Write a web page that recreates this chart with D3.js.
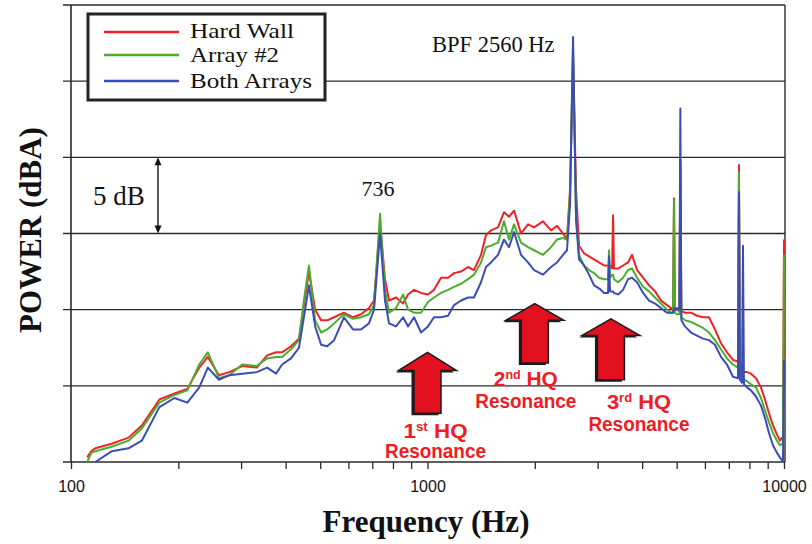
<!DOCTYPE html>
<html>
<head>
<meta charset="utf-8">
<script src="https://cdn.jsdelivr.net/npm/d3@7"></script>
<style>
  html, body { margin: 0; padding: 0; background: #fff; }
  svg { display: block; }
</style>
</head>
<body>
<svg id="chart" width="812" height="544"></svg>
<script>
// Sound power spectra (dBA) for the three duct-liner configurations
const freqs = [111,114,117,130,145,158,177,195,212,229,242,260,278,302,332,355,376,391,414,436,
  450,465,484,503,523,547,583,618,651,685,708,736,760,780,816,854,882,917,959,1003,
  1043,1091,1142,1187,1242,1299,1350,1413,1459,1507,1577,1639,1693,1749,1829,1914,1990,2109,2220,2308,
  2400,2462,2511,2560,2610,2661,2748,2839,2932,3028,3128,3209,3230,3251,3295,3315,3335,3424,3536,3652,
  3748,3871,4024,4182,4347,4519,4697,4820,4882,4914,4946,5010,5087,5120,5153,5276,5484,5700,5926,6160,
  6403,6656,6919,7192,7428,7476,7524,7623,7672,7722,7873,8079,8344,8618,8843,9076,9313,9558,9745,9872,
  9935,10000];

const hardWall = [60.3,60.7,60.9,61.2,61.6,62.4,64.1,64.5,64.8,66.2,66.9,65.7,65.9,66.3,66.2,67.0,67.2,67.2,67.6,68.1,
  70.3,72.5,70.0,69.3,69.3,69.5,69.8,69.5,69.7,70.1,70.6,75.6,72.0,70.6,70.8,70.4,71.0,71.3,71.1,71.0,
  71.3,72.1,72.1,72.4,72.5,72.8,72.6,73.6,74.9,75.2,75.4,76.4,76.1,76.5,75.0,75.6,75.4,75.8,75.2,75.5,
  75.0,74.6,77.9,86.4,77.9,74.2,73.7,73.5,73.3,73.1,72.9,72.9,72.9,72.9,72.7,76.2,72.7,72.7,72.9,73.1,
  73.6,72.6,72.1,71.6,71.2,70.6,70.3,70.1,70.1,77.3,70.0,70.0,69.9,79.8,69.9,69.8,69.8,69.6,69.5,69.5,
  68.7,67.8,67.2,66.7,66.6,79.5,66.3,66.2,66.0,65.9,65.9,65.8,65.5,64.9,64.1,63.2,62.4,61.8,61.4,61.6,
  61.6,74.6];

const array2 = [60.0,60.6,60.7,61.0,61.4,62.2,63.9,64.4,64.7,66.4,67.2,65.5,65.7,66.4,66.3,66.8,66.9,66.9,67.4,68.0,
  70.6,72.9,69.3,68.5,68.7,69.1,69.7,69.4,69.5,69.7,70.3,76.3,71.3,69.8,70.1,71.0,70.0,69.8,69.8,70.5,
  70.8,71.1,71.3,71.5,71.7,72.0,72.3,73.1,74.1,74.2,74.4,75.8,74.6,75.6,74.4,74.1,73.9,73.6,74.1,74.6,
  74.7,74.6,77.5,87.2,76.2,73.6,72.9,72.6,72.4,72.1,72.0,72.0,73.9,72.1,72.3,72.3,72.0,71.8,72.1,72.6,
  72.7,72.1,71.5,71.2,70.8,70.4,70.0,69.8,69.8,77.2,69.8,69.7,69.7,79.5,69.5,69.3,69.2,69.0,68.8,68.5,
  68.0,67.4,66.8,66.4,66.2,79.0,65.9,65.6,65.5,65.4,65.3,65.1,64.9,64.2,63.4,62.6,61.9,61.4,61.1,61.2,
  61.2,73.6];

const bothArrays = [null,null,60.0,60.7,60.9,61.4,63.6,64.2,63.9,64.9,66.2,65.4,65.7,65.8,65.9,66.2,65.8,66.4,66.8,67.5,
  69.5,71.6,68.9,67.7,67.6,68.0,69.5,68.7,68.7,69.1,70.0,75.0,70.6,69.1,68.9,69.5,68.9,69.5,68.5,68.9,
  69.5,69.5,69.6,70.3,70.6,70.8,70.8,71.8,72.8,73.1,73.6,74.6,74.1,75.1,73.6,73.1,72.6,72.3,72.8,73.1,
  73.6,73.9,76.9,87.9,75.9,73.3,72.9,72.3,71.6,71.4,71.1,71.1,73.5,71.2,71.2,71.2,71.1,71.0,71.3,72.0,
  72.1,71.8,71.1,70.6,70.4,70.1,69.8,69.8,69.8,70.1,70.0,70.1,70.0,83.2,69.3,68.9,68.5,68.3,68.1,68.0,
  67.7,66.9,66.4,65.6,65.5,77.7,65.4,65.2,74.2,65.1,64.9,64.7,64.3,63.7,62.9,61.9,61.1,60.6,60.3,60.1,
  60.1,66.7];

const seriesNames = ["Hard Wall", "Array #2", "Both Arrays"];
const seriesColors = ["#ee2228", "#4cad2c", "#3b4db5"];
const yGrid = [60, 65, 70, 75, 80, 85, 90];
const xMajor = [100, 1000, 10000];

// Resonance annotations (frequency in Hz, arrow tip / head base / tail in dBA)
const resonances = [
  { freq: 1000, tip: 67.2, head: 66.0, tail: 63.2, ord: "1", sup: "st", hq: 438, res: 458, dx: 8 },
  { freq: 2000, tip: 70.4, head: 69.3, tail: 66.5, ord: "2", sup: "nd", hq: 386, res: 408, dx: -9 },
  { freq: 3270, tip: 69.4, head: 68.3, tail: 65.4, ord: "3", sup: "rd", hq: 409, res: 431, dx: 28 }
];

const svg = d3.select("#chart");
const plotLeft = 71, plotRight = 784, plotTop = 5, plotBottom = 462;

const x = d3.scaleLog().domain([100, 10000]).range([plotLeft, plotRight]);
const y = d3.scaleLinear().domain([60, 90]).range([plotBottom, plotTop]);

// horizontal grid (extends left past the axis as tick marks)
svg.append("g").selectAll("line").data(yGrid).join("line")
  .attr("x1", plotLeft - 8).attr("x2", plotRight + 1)
  .attr("y1", d => y(d)).attr("y2", d => y(d))
  .attr("stroke", "#2a2a2a").attr("stroke-width", 1.4);

// left and right frame
svg.append("line").attr("x1", plotLeft).attr("x2", plotLeft).attr("y1", plotTop).attr("y2", plotBottom)
  .attr("stroke", "#2a2a2a").attr("stroke-width", 1.6);
svg.append("line").attr("x1", plotRight + 1).attr("x2", plotRight + 1).attr("y1", plotTop).attr("y2", plotBottom)
  .attr("stroke", "#2a2a2a").attr("stroke-width", 1.4);

// x axis with decade labels only
const tickVals = [];
for (let dec = 100; dec <= 1000; dec *= 10) for (let k = 1; k < 10; k++) tickVals.push(dec * k);
tickVals.push(10000);
const xAxis = d3.axisBottom(x).tickValues(tickVals).tickSize(7).tickPadding(12)
  .tickFormat(d => xMajor.includes(d) ? String(d) : "");
const gx = svg.append("g").attr("transform", `translate(0,${plotBottom})`).call(xAxis);
gx.select(".domain").remove();
gx.selectAll(".tick line").attr("stroke", "#2a2a2a").attr("stroke-width", 1.3);
gx.selectAll("text").attr("font-family", "'Liberation Sans', Arial, sans-serif")
  .attr("font-size", 16).attr("fill", "#111");

// spectra
const line = d3.line()
  .defined(d => d[1] !== null)
  .x(d => x(d[0])).y(d => y(d[1]));
[hardWall, array2, bothArrays].forEach((vals, i) => {
  svg.append("path")
    .datum(freqs.map((f, j) => [f, vals[j]]))
    .attr("fill", "none")
    .attr("stroke", seriesColors[i])
    .attr("stroke-width", 2)
    .attr("stroke-linejoin", "round")
    .attr("d", line);
});

// legend
const lg = svg.append("g");
lg.append("rect").attr("x", 88).attr("y", 14).attr("width", 237).attr("height", 86)
  .attr("fill", "#fff").attr("stroke", "#222").attr("stroke-width", 3);
const legendY = [32, 55, 81];
const legendWidths = [104, 89, 122];
seriesNames.forEach((name, i) => {
  lg.append("line").attr("x1", 104).attr("x2", 179)
    .attr("y1", legendY[i]).attr("y2", legendY[i])
    .attr("stroke", seriesColors[i]).attr("stroke-width", 2.5);
  lg.append("text").attr("x", 190).attr("y", legendY[i] + [6, 7, 7][i])
    .attr("font-family", "'Liberation Serif', 'Times New Roman', serif")
    .attr("font-size", 21.5).attr("fill", "#111")
    .attr("textLength", legendWidths[i]).attr("lengthAdjust", "spacingAndGlyphs")
    .text(name);
});

// 5 dB scale marker
const dbX = 158;
svg.append("line").attr("x1", dbX).attr("x2", dbX).attr("y1", y(80) + 6).attr("y2", y(75) - 6)
  .attr("stroke", "#111").attr("stroke-width", 1.4);
svg.append("path").attr("d", `M${dbX},${y(80)} l-3.5,8 l7,0 z`).attr("fill", "#111");
svg.append("path").attr("d", `M${dbX},${y(75)} l-3.5,-8 l7,0 z`).attr("fill", "#111");
svg.append("text").attr("x", 93).attr("y", 205)
  .attr("font-family", "'Liberation Serif', 'Times New Roman', serif")
  .attr("font-size", 27).attr("fill", "#111").text("5 dB");

// peak labels
svg.append("text").attr("x", x(736) - 2).attr("y", 196).attr("text-anchor", "middle")
  .attr("font-family", "'Liberation Serif', 'Times New Roman', serif")
  .attr("font-size", 22).attr("fill", "#111").text("736");
svg.append("text").attr("x", 432).attr("y", 52)
  .attr("font-family", "'Liberation Serif', 'Times New Roman', serif")
  .attr("font-size", 22.5).attr("fill", "#111").text("BPF 2560 Hz");

// resonance arrows and labels
const arrowPath = (cx, tipY, headY, tailY) => {
  const hw = 29, sw = 13.5;
  return `M${cx},${tipY} L${cx + hw},${headY} L${cx + sw},${headY} L${cx + sw},${tailY} ` +
         `L${cx - sw},${tailY} L${cx - sw},${headY} L${cx - hw},${headY} Z`;
};
const labelFont = "'Liberation Sans', Arial, sans-serif";
resonances.forEach(r => {
  const cx = x(r.freq);
  const p = arrowPath(cx, y(r.tip), y(r.head), y(r.tail));
  svg.append("path").attr("d", p).attr("transform", "translate(-2.5,2)").attr("fill", "#1c1c1c");
  svg.append("path").attr("d", p).attr("fill", "#e3111f")
    .attr("stroke", "#1c1c1c").attr("stroke-width", 1.5).attr("stroke-linejoin", "miter");
  const t1 = svg.append("text").attr("x", cx + r.dx - 32).attr("y", r.hq)
    .attr("font-family", labelFont).attr("font-weight", "bold")
    .attr("font-size", 20).attr("fill", "#ee1c25")
    .attr("textLength", 64).attr("lengthAdjust", "spacingAndGlyphs");
  t1.append("tspan").text(r.ord);
  t1.append("tspan").attr("font-size", 12).attr("dy", -7).text(r.sup);
  t1.append("tspan").attr("dy", 7).text("\u00a0HQ");
  svg.append("text").attr("x", cx + r.dx - 50.5).attr("y", r.res)
    .attr("font-family", labelFont).attr("font-weight", "bold")
    .attr("font-size", 20).attr("fill", "#ee1c25")
    .attr("textLength", 101).attr("lengthAdjust", "spacingAndGlyphs")
    .text("Resonance");
});

// axis titles
svg.append("text").attr("x", 426).attr("y", 532).attr("text-anchor", "middle")
  .attr("font-family", "'Liberation Serif', 'Times New Roman', serif")
  .attr("font-weight", "bold").attr("font-size", 31).attr("fill", "#111")
  .text("Frequency (Hz)");
svg.append("text").attr("transform", "translate(41,230) rotate(-90)").attr("text-anchor", "middle")
  .attr("font-family", "'Liberation Serif', 'Times New Roman', serif")
  .attr("font-weight", "bold").attr("font-size", 31).attr("fill", "#111")
  .text("POWER (dBA)");
</script>
</body>
</html>
